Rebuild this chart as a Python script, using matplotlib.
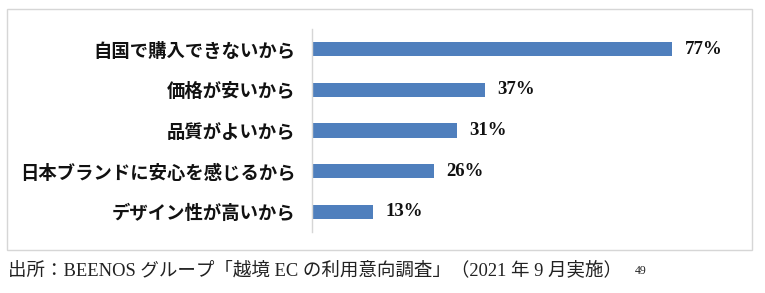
import matplotlib
matplotlib.use("Agg")
import matplotlib.pyplot as plt
from matplotlib.patches import Rectangle

reasons = ["自国で購入できないから", "価格が安いから", "品質がよいから",
           "日本ブランドに安心を感じるから", "デザイン性が高いから"]
shares = [77, 37, 31, 26, 13]
source = "出所：BEENOS グループ「越境 EC の利用意向調査」（2021 年 9 月実施）"
note = "49"

BAR = "#4f7fbd"
FRAME = "#d6d6d6"
JP = ["Noto Sans CJK JP", "DejaVu Sans"]
SERIF = ["Liberation Serif", "Noto Sans CJK JP"]

fig = plt.figure(figsize=(7.65, 2.93), dpi=100)
fig.patches.append(Rectangle((7 / 765, 43 / 293), 745 / 765, 241 / 293,
                             transform=fig.transFigure, fill=False,
                             edgecolor=FRAME, lw=1.0))

ax = fig.add_axes([312 / 765, 61 / 293, 421 / 765, 203 / 293])
y = list(range(len(reasons)))
bars = ax.barh(y, shares, height=0.35, color=BAR, edgecolor="none")
ax.bar_label(bars, labels=[f"{v}%" for v in shares], padding=9,
             fontsize=13.5, fontweight="bold", family=SERIF, color="#111111")
ax.set_ylim(len(reasons) - 0.5, -0.5)
ax.set_xlim(0, 90)
ax.set_yticks(y)
ax.set_yticklabels(reasons, family=JP, fontsize=13.2, fontweight="bold",
                   color="#111111")
ax.tick_params(axis="y", length=0, pad=12)
ax.set_xticks([])
for s in ["top", "right", "bottom"]:
    ax.spines[s].set_visible(False)
ax.spines["left"].set_color(FRAME)
ax.spines["left"].set_linewidth(1.0)

t = fig.text(8 / 765, 23 / 293, source, family=SERIF, fontsize=13.3,
             va="center", ha="left", color="#222222")
fig.canvas.draw()
bb = t.get_window_extent()
fig.text((bb.x1 + 13) / 765, 22 / 293, note, family=SERIF, fontsize=8.5,
         va="center", ha="left", color="#222222")

fig.savefig("out.png", dpi=100)
